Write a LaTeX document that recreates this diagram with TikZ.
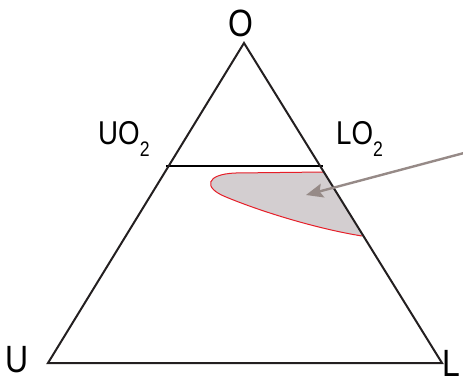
\documentclass[tikz,border=0pt]{standalone}
\usepackage{fontspec}
\setmainfont{Liberation Sans}
\newfontfamily\narrowsans[FakeStretch=0.84]{Liberation Sans}
\usetikzlibrary{arrows.meta}
\definecolor{edgeink}{RGB}{35,31,32}
\definecolor{zonefill}{RGB}{211,206,208}
\definecolor{zonered}{RGB}{230,30,40}
\definecolor{pointink}{RGB}{150,138,135}
\newcommand{\lowtwo}{\raisebox{-12pt}{\fontsize{21}{21}\selectfont 2}}
\begin{document}
\begin{tikzpicture}[
  x=1pt, y=-1pt,
  cornerlbl/.style={inner sep=0pt, font=\narrowsans\fontsize{38}{40}\selectfont},
  phaselbl/.style={inner sep=0pt, font=\narrowsans\fontsize{33}{35}\selectfont},
  side/.style={draw=edgeink, line width=2pt, line join=miter},
  tieline/.style={draw=black, line width=1.2pt},
  zone/.style={fill=zonefill},
  zoneedge/.style={draw=zonered, line width=1pt},
  pointer/.style={draw=pointink, line width=2.4pt, -{Stealth[length=17pt,width=14pt,inset=3pt]}}
]
\useasboundingbox (0,0) rectangle (463,382);
% corners of the triangle
\coordinate (top) at (244,43);
\coordinate (botleft) at (48,363);
\coordinate (botright) at (442,363);
% labels
\node[cornerlbl, anchor=base] (o) at (241,37) {O};
\node[cornerlbl, anchor=base west] (u) at (5,372) {U};
\node[cornerlbl, anchor=base west] (l) at (442,376) {L};
\node[phaselbl, anchor=base west] (uo) at (98,145) {UO\lowtwo};
\node[phaselbl, anchor=base west] (lo) at (336,145) {LO\lowtwo};
% shaded region against the right side
\coordinate (za) at (324,172);
\coordinate (zb) at (362,236);
\fill[zone] (za) -- (236,173) .. controls (205,174) and (203,188) .. (226,197)
  .. controls (262,212) and (318,229) .. (zb) -- cycle;
\draw[zoneedge] (za) -- (236,173) .. controls (205,174) and (203,188) .. (226,197)
  .. controls (262,212) and (318,229) .. (zb);
% tie line
\coordinate (ta) at (166,166);
\coordinate (tb) at (323,166);
\draw[tieline] (ta) -- (tb);
% triangle
\draw[side] (top) -- (botright) -- (botleft) -- cycle;
% pointer
\coordinate (ptail) at (464,153);
\coordinate (phead) at (306,195);
\draw[pointer] (ptail) -- (phead);
\end{tikzpicture}
\end{document}
